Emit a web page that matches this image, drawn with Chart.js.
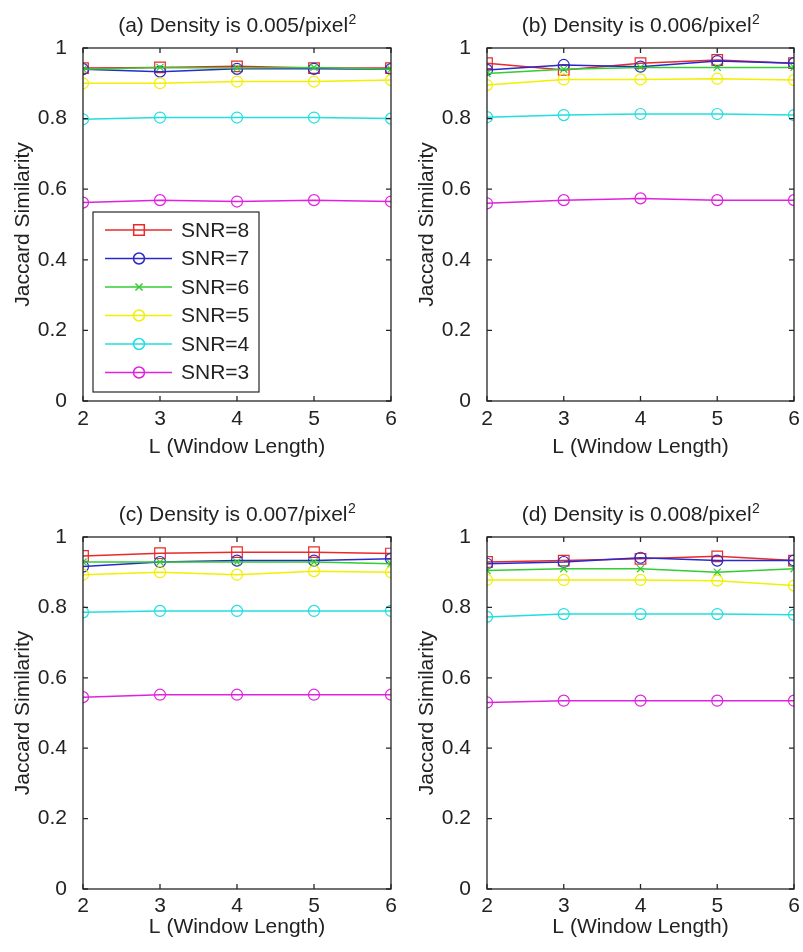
<!DOCTYPE html>
<html lang="en">
<head>
<meta charset="UTF-8">
<title>Jaccard Similarity vs Window Length</title>
<style>
  body { margin: 0; background: #fff; }
  #figure { position: relative; width: 803px; height: 952px; background: #fff; }
  #figure canvas { position: absolute; }
</style>
</head>
<body>
<div id="figure">
  <canvas id="chartA"></canvas>
  <canvas id="chartB"></canvas>
  <canvas id="chartC"></canvas>
  <canvas id="chartD"></canvas>
</div>
<script src="https://cdn.jsdelivr.net/npm/chart.js"></script>
<script>
// ---- data ----
const windowLengths = [2, 3, 4, 5, 6];
const snrLabels = ['SNR=8', 'SNR=7', 'SNR=6', 'SNR=5', 'SNR=4', 'SNR=3'];
const panelTags = ['(a)', '(b)', '(c)', '(d)'];
const densities = ['0.005', '0.006', '0.007', '0.008'];
const xTicks = [2, 3, 4, 5, 6];
const yTicks = [0, 0.2, 0.4, 0.6, 0.8, 1];

// rows follow snrLabels order: SNR=8 ... SNR=3
const densityA = [
    [0.943, 0.945, 0.948, 0.943, 0.943],
    [0.940, 0.933, 0.941, 0.941, 0.940],
    [0.940, 0.945, 0.943, 0.945, 0.940],
    [0.900, 0.900, 0.905, 0.905, 0.909],
    [0.798, 0.803, 0.803, 0.803, 0.800],
    [0.562, 0.569, 0.565, 0.569, 0.565]
];
const densityB = [
    [0.957, 0.938, 0.957, 0.966, 0.957],
    [0.938, 0.952, 0.947, 0.963, 0.957],
    [0.928, 0.940, 0.945, 0.945, 0.945],
    [0.895, 0.911, 0.911, 0.913, 0.909],
    [0.804, 0.810, 0.813, 0.813, 0.810],
    [0.560, 0.569, 0.574, 0.569, 0.569]
];
const densityC = [
    [0.946, 0.954, 0.957, 0.957, 0.953],
    [0.916, 0.929, 0.933, 0.933, 0.938],
    [0.929, 0.929, 0.929, 0.929, 0.924],
    [0.893, 0.900, 0.893, 0.903, 0.900],
    [0.786, 0.790, 0.790, 0.790, 0.790],
    [0.545, 0.552, 0.552, 0.552, 0.552]
];
const densityD = [
    [0.929, 0.933, 0.938, 0.945, 0.933],
    [0.924, 0.929, 0.941, 0.933, 0.933],
    [0.905, 0.910, 0.910, 0.900, 0.910],
    [0.878, 0.878, 0.878, 0.876, 0.862],
    [0.773, 0.781, 0.781, 0.781, 0.779],
    [0.530, 0.535, 0.535, 0.535, 0.535]
];

// ---- styles ----
const lineColors = ['#e82a2a', '#2a2acc', '#33cc33', '#f0f000', '#22dede', '#de22de'];
const markers = ['rect', 'circle', 'crossRot', 'circle', 'circle', 'circle'];
const markerSizes = [7.5, 5.5, 5, 5.5, 5.5, 5.5];
const fontFamily = 'Arial, "Liberation Sans", Helvetica, sans-serif';
const textColor = '#222';

Chart.defaults.font.family = fontFamily;
Chart.defaults.color = textColor;

// layout of the four panels (page pixels)
const panels = [
    { id: 'chartA', rows: densityA, canvas: { x: 0, y: 0, w: 401, h: 476 }, plot: { l: 83, t: 48, r: 391, b: 401 }, xTitleY: 447, yTitleX: 23, tickPad: -2, legend: true },
    { id: 'chartB', rows: densityB, canvas: { x: 402, y: 0, w: 401, h: 476 }, plot: { l: 487, t: 48, r: 794, b: 401 }, xTitleY: 447, yTitleX: 427, tickPad: -2, legend: false },
    { id: 'chartC', rows: densityC, canvas: { x: 0, y: 476, w: 401, h: 476 }, plot: { l: 83, t: 537, r: 391, b: 889 }, xTitleY: 927, yTitleX: 23, tickPad: -3, legend: false },
    { id: 'chartD', rows: densityD, canvas: { x: 402, y: 476, w: 401, h: 476 }, plot: { l: 487, t: 537, r: 794, b: 889 }, xTitleY: 927, yTitleX: 427, tickPad: -3, legend: false }
];

// box + inward ticks + title with superscript, matlab style
const matlabFrame = {
    id: 'matlabFrame',
    afterDraw(chart, args, opts) {
        const { ctx, chartArea: a, scales: { x, y } } = chart;
        ctx.save();
        ctx.strokeStyle = '#262626';
        ctx.lineWidth = 1.3;
        ctx.strokeRect(a.left, a.top, a.right - a.left, a.bottom - a.top);
        ctx.beginPath();
        xTicks.forEach(v => {
            const px = x.getPixelForValue(v);
            ctx.moveTo(px, a.bottom); ctx.lineTo(px, a.bottom - 5);
            ctx.moveTo(px, a.top); ctx.lineTo(px, a.top + 5);
        });
        yTicks.forEach(v => {
            const py = y.getPixelForValue(v);
            ctx.moveTo(a.left, py); ctx.lineTo(a.left + 5, py);
            ctx.moveTo(a.right, py); ctx.lineTo(a.right - 5, py);
        });
        ctx.stroke();

        // title
        const mainFont = '21px ' + fontFamily;
        const supFont = '14px ' + fontFamily;
        ctx.fillStyle = textColor;
        ctx.textBaseline = 'alphabetic';
        ctx.textAlign = 'left';
        ctx.font = mainFont;
        const mw = ctx.measureText(opts.text).width;
        ctx.font = supFont;
        const sw = ctx.measureText('2').width;
        const cx = (a.left + a.right) / 2;
        const base = a.top - 16;
        const x0 = cx - (mw + sw) / 2;
        ctx.font = mainFont;
        ctx.fillText(opts.text, x0, base);
        ctx.font = supFont;
        ctx.fillText('2', x0 + mw + 0.5, base - 8);
        ctx.restore();
    }
};

// legend drawn inside the plot box
const snrLegend = {
    id: 'snrLegend',
    afterDraw(chart, args, opts) {
        if (!opts.display) return;
        const { ctx, chartArea: a } = chart;
        const bx = a.left + 10, by = a.top + 164, bw = 166, bh = 180;
        ctx.save();
        ctx.fillStyle = '#fff';
        ctx.fillRect(bx, by, bw, bh);
        ctx.strokeStyle = '#262626';
        ctx.lineWidth = 1.2;
        ctx.strokeRect(bx, by, bw, bh);
        chart.data.datasets.forEach((ds, i) => {
            const yy = by + 18 + i * 28.5;
            ctx.strokeStyle = ds.borderColor;
            ctx.lineWidth = ds.borderWidth;
            ctx.beginPath();
            ctx.moveTo(bx + 12, yy);
            ctx.lineTo(bx + 79, yy);
            ctx.stroke();
            ctx.fillStyle = 'rgba(0,0,0,0)';
            Chart.helpers.drawPoint(ctx, {
                pointStyle: ds.pointStyle,
                radius: ds.pointRadius,
                borderWidth: 1.2,
                rotation: 0
            }, bx + 46, yy);
            ctx.fillStyle = textColor;
            ctx.font = '21px ' + fontFamily;
            ctx.textAlign = 'left';
            ctx.textBaseline = 'middle';
            ctx.fillText(ds.label, bx + 88, yy + 1);
        });
        ctx.restore();
    }
};

panels.forEach((p, k) => {
    const cv = document.getElementById(p.id);
    cv.width = p.canvas.w;
    cv.height = p.canvas.h;
    cv.style.left = p.canvas.x + 'px';
    cv.style.top = p.canvas.y + 'px';

    const datasets = snrLabels.map((label, i) => ({
        label: label,
        data: windowLengths.map((L, j) => ({ x: L, y: p.rows[i][j] })),
        borderColor: lineColors[i],
        backgroundColor: 'rgba(0,0,0,0)',
        pointBackgroundColor: 'rgba(0,0,0,0)',
        pointBorderColor: lineColors[i],
        pointStyle: markers[i],
        pointRadius: markerSizes[i],
        pointBorderWidth: 1.2,
        borderWidth: 1.5,
        tension: 0,
        order: snrLabels.length - i
    }));

    new Chart(cv, {
        type: 'line',
        data: { datasets: datasets },
        plugins: [matlabFrame, snrLegend],
        options: {
            responsive: false,
            animation: false,
            events: [],
            layout: {
                padding: {
                    left: 0,
                    bottom: 0,
                    top: p.plot.t - p.canvas.y,
                    right: p.canvas.x + p.canvas.w - p.plot.r
                }
            },
            plugins: {
                legend: { display: false },
                tooltip: { enabled: false },
                matlabFrame: { text: panelTags[k] + ' Density is ' + densities[k] + '/pixel' },
                snrLegend: { display: p.legend }
            },
            scales: {
                x: {
                    type: 'linear',
                    min: 2,
                    max: 6,
                    grid: { display: false },
                    border: { display: false },
                    ticks: { stepSize: 1, padding: p.tickPad, color: textColor, font: { size: 21 } },
                    title: {
                        display: true,
                        text: 'L (Window Length)',
                        color: textColor,
                        font: { size: 21 },
                        padding: { top: 0, bottom: p.canvas.y + p.canvas.h - p.xTitleY - 12.6 }
                    },
                    afterFit: s => { s.height = p.canvas.y + p.canvas.h - p.plot.b; }
                },
                y: {
                    type: 'linear',
                    min: 0,
                    max: 1,
                    grid: { display: false },
                    border: { display: false },
                    ticks: {
                        stepSize: 0.2,
                        padding: 8,
                        color: textColor,
                        font: { size: 21 },
                        callback: v => String(+v.toFixed(1))
                    },
                    title: {
                        display: true,
                        text: 'Jaccard Similarity',
                        color: textColor,
                        font: { size: 21 },
                        padding: { top: p.yTitleX - p.canvas.x - 12.6, bottom: 0 }
                    },
                    afterFit: s => { s.width = p.plot.l - p.canvas.x; }
                }
            }
        }
    });
});
</script>
</body>
</html>
